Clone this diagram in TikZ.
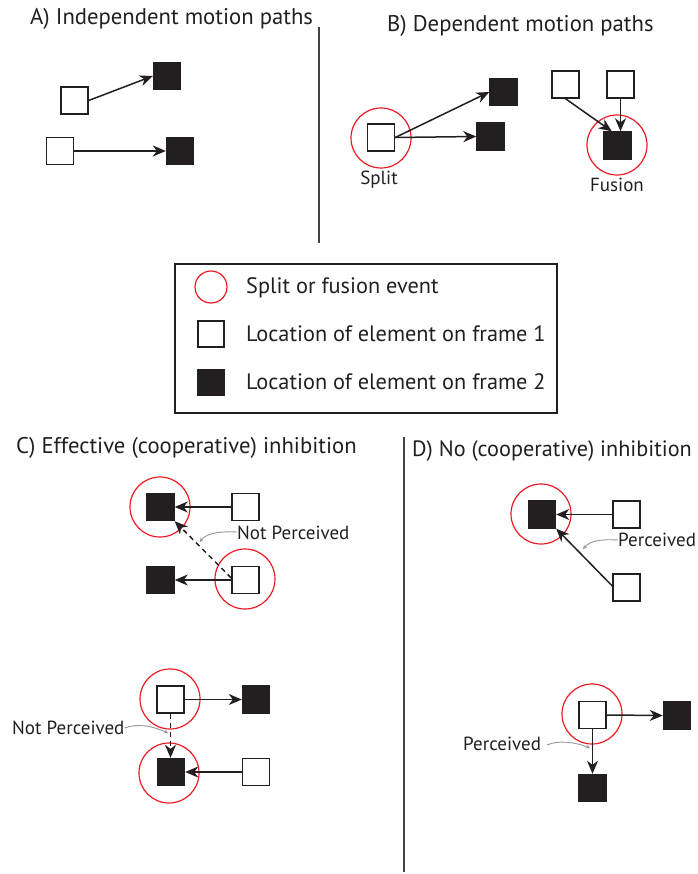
\documentclass[tikz,border=0pt]{standalone}
\usepackage{fontspec}
\setmainfont{PT Sans}
\usetikzlibrary{arrows.meta}
\definecolor{ink}{HTML}{231F20}
\definecolor{evred}{HTML}{ED1C24}
\definecolor{note}{HTML}{939598}
\tikzset{
  frameone/.style={draw=ink, fill=white, line width=1.4pt, minimum size=27pt, inner sep=0pt},
  frametwo/.style={draw=ink, fill=ink, line width=1.4pt, minimum size=27pt, inner sep=0pt},
  event/.style={draw=evred, circle, line width=1.2pt, minimum size=60pt, inner sep=0pt},
  motion/.style={draw=ink, line width=1.5pt, -{Stealth[length=13pt,width=11pt,inset=4pt]}},
  hidden/.style={motion, dashed, dash pattern=on 5pt off 4pt},
  pointer/.style={draw=note, line width=0.9pt, -{Stealth[length=4pt,width=4pt]}},
  title/.style={anchor=base west, inner sep=0pt, font=\fontsize{22.7}{26}\selectfont, text=ink},
  legendtext/.style={anchor=base west, inner sep=0pt, font=\fontsize{22.3}{26}\selectfont, text=ink},
  caption/.style={anchor=base west, inner sep=0pt, font=\fontsize{19}{22}\selectfont, text=ink},
  divider/.style={draw=ink!85, line width=1.5pt}
}
\begin{document}
\begin{tikzpicture}[x=1pt,y=-1pt]
\useasboundingbox (0,0) rectangle (697,874);

% ---------- A) Independent motion paths
\node[title] (ta) at (30,25) {A) Independent motion paths};
\node[frameone] (a1w) at (74.5,100.5) {};
\node[frametwo] (a1b) at (167,76) {};
\node[frameone] (a2w) at (60,151) {};
\node[frametwo] (a2b) at (180,151) {};
\draw[motion] (a1w.east) -- (a1b.west);
\draw[motion] (a2w.east) -- (a2b.west);

\draw[divider] (319,27) -- (319,243);

% ---------- B) Dependent motion paths
\node[title] (tb) at (387,32) {B) Dependent motion paths};
% split
\node[event] (split) at (381,138) {};
\node[frameone] (sw) at (381,137.5) {};
\node[frametwo] (sb1) at (503.5,92) {};
\node[frametwo] (sb2) at (490.5,136.5) {};
\draw[motion] (sw.east) -- (sb1.west);
\draw[motion] (sw.east) -- (sb2.west);
\node[caption, anchor=base] (splitlab) at (379,185) {Split};
% fusion
\node[frameone] (fw1) at (565.5,84.5) {};
\node[frameone] (fw2) at (620.5,84.5) {};
\node[frametwo] (fb) at (617.5,145.5) {};
\node[event] (fusion) at (617,145) {};
\draw[motion] (fw1.south) -- (fb.112);
\draw[motion] (fw2.south) -- (fw2.south |- fb.north);
\node[caption, anchor=base] (fusionlab) at (617,192) {Fusion};

% ---------- legend
\node[draw=ink, line width=1.3pt, minimum width=382pt, minimum height=149pt, inner sep=0pt] (legend) at (366,338.5) {};
\node[event, minimum size=32pt] (lev) at (211,287) {};
\node[frameone, minimum size=26pt] (lw) at (211,334) {};
\node[frametwo, minimum size=26pt] (lb) at (211,382.5) {};
\node[legendtext] (lt1) at (246,294) {Split or fusion event};
\node[legendtext] (lt2) at (246,341) {Location of element on frame 1};
\node[legendtext] (lt3) at (246,389) {Location of element on frame 2};

% ---------- C) Effective (cooperative) inhibition
\node[title] (tc) at (16,453) {C) Effective (cooperative) inhibition};
% upper pair
\node[frametwo] (c1b) at (160.5,507) {};
\node[event] (c1e) at (160,507) {};
\node[frameone] (c1w) at (245.5,507) {};
\node[frametwo] (c2b) at (160.5,580) {};
\node[frameone] (c2w) at (245.5,580) {};
\node[event] (c2e) at (245,579) {};
\draw[motion] (c1w.west) -- (c1b.east);
\draw[motion] (c2w.west) -- (c2b.east);
\draw[hidden] (c2w.172) -- (c1b.south east);
\node[caption] (cnp1) at (237,539) {Not Perceived};
\draw[pointer] (cnp1.west |- 0,532) .. controls (222,531) and (206,533) .. (200,542);
% lower pair
\node[frameone] (c3w) at (170.5,699.5) {};
\node[event] (c3e) at (170,699) {};
\node[frametwo] (c3b) at (256,699.5) {};
\node[frametwo] (c4b) at (171,772) {};
\node[event] (c4e) at (169,773) {};
\node[frameone] (c4w) at (256,772) {};
\draw[motion] (c3w.east) -- (c3b.west);
\draw[motion] (c4w.west) -- (c4b.east);
\draw[hidden] (c3w.south) -- (c3w.south |- c4b.north);
\node[caption] (cnp2) at (12,734) {Not Perceived};
\draw[pointer] (cnp2.east |- 0,728) .. controls (138,723) and (152,726) .. (168,733);

% ---------- D) No (cooperative) inhibition
\draw[divider] (404,437) -- (404,872);
\node[title, font=\fontsize{22.2}{26}\selectfont] (td) at (412,456) {D) No (cooperative) inhibition};
% upper pair
\node[frametwo] (d1b) at (542,514.5) {};
\node[event] (d1e) at (541,514) {};
\node[frameone] (d1w) at (626.5,514.5) {};
\node[frameone] (d2w) at (626.5,587.5) {};
\draw[motion] (d1w.west) -- (d1b.east);
\draw[motion] (d2w.west |- 0,586) -- (d1b.south east);
\node[caption] (dp1) at (618,546) {Perceived};
\draw[pointer] (dp1.west |- 0,540) .. controls (600,539) and (590,541) .. (583,549);
% lower pair
\node[frameone] (d3w) at (592.5,715) {};
\node[event] (d3e) at (592,714) {};
\node[frametwo] (d3b) at (677,715.5) {};
\node[frametwo] (d4b) at (592.5,788) {};
\draw[motion] (d3w.east) -- (d3b.west);
\draw[motion] (d3w.south) -- (d4b.north);
\node[caption] (dp2) at (463,750) {Perceived};
\draw[pointer] (547,745) .. controls (558,740) and (575,742) .. (590,748);
\end{tikzpicture}
\end{document}
